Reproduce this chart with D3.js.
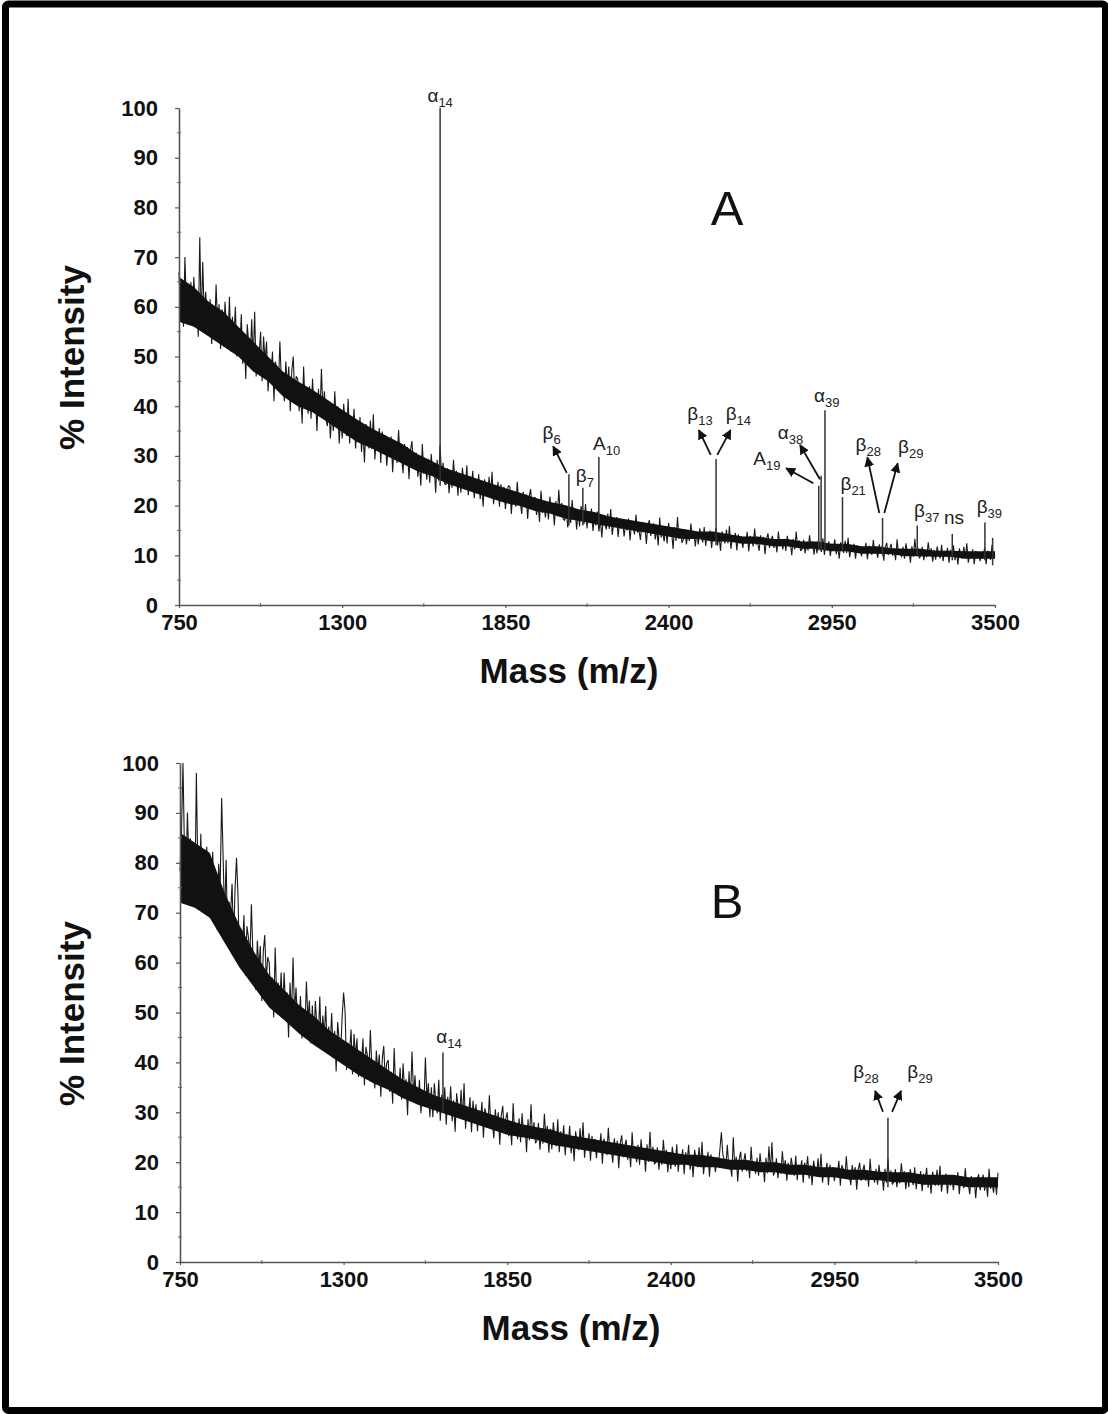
<!DOCTYPE html>
<html><head><meta charset="utf-8">
<script src="https://cdn.jsdelivr.net/npm/d3@7"></script>
<style>body{margin:0;background:#fff}svg{display:block}</style>
</head><body><svg id="c" width="1108" height="1414"></svg>
<script>
// ---------- data ----------
const mzStart = 750, mzStep = 5, coreStep = 50;
const xTicks = [750, 1300, 1850, 2400, 2950, 3500];
const xMinorTicks = [1025, 1575, 2125, 2675, 3225];
const yTicks = [0, 10, 20, 30, 40, 50, 60, 70, 80, 90, 100];
const yMinorTicks = [5, 15, 25, 35, 45, 55, 65, 75, 85, 95];

// Panel A spectrum trace, 750..3500 m/z every 5 (one row = 100 m/z)
const spectrumA = [
 67,59,64,56,70,60,63,58,65,57,66,60,62,54,74,57,69,58,63,56,
 55.5,61.5,52.5,58.5,54.5,64.5,56.5,60.5,51.5,59.5,52,61,56,53,62,51,58,54,60,50,
 55.5,51.5,58.5,48.5,54.5,45.5,56.5,52.5,49.5,57.5,49,59,46,52,50,55,45,54,49,53,
 43,48,46,51,41,49,47,44,53,45,45,41,49,44,48,39,47,50,42,46,
 45.5,39,43,36.5,48,40,42.5,38.5,44,37.5,45.5,39.5,42,35,43.5,38,47.5,39,43,37.5,
 36,40.5,33.5,38.5,35,43,36.5,40,32.5,39,33.5,40.5,36.5,34,41.5,32.5,38,35,39.5,31.5,
 35.7,32.9,37.8,30.8,35,28.7,36.4,33.6,31.5,37.1,31.4,38.4,29.3,33.5,32.1,35.6,28.6,34.9,31.4,34.2,
 28,31.9,30,33.9,26.7,32.5,31.3,28.6,35.2,29.3,29.8,26.5,32.4,29.2,31.8,25.3,31.1,33,27.9,30.4,
 30.6,25.8,28.8,24,32.4,26.4,28.2,25.2,29.4,24.6,30.4,26.2,28,22.6,29.2,25,32.2,25.6,28.6,24.4,
 24.2,27.5,22.5,25.9,23.6,29.2,24.8,27,22,26.4,22.6,27.6,24.8,23.2,28.1,22.1,25.9,23.7,27,21.5,
 24.8,22.8,26.3,21.3,24.3,19.8,25.3,23.3,21.8,25.8,21.8,26.8,20.3,23.3,22.3,24.8,19.8,24.3,21.8,23.8,
 19.3,22.3,24,23.8,18.3,22.8,21.8,19.8,24.8,20.3,20.8,18.3,22.8,20.3,22.3,17.3,21.8,23.3,19.3,21.3,
 21.7,18.1,20.3,16.7,23,18.5,19.9,17.6,20.8,17.2,21.8,18.7,20,16,20.9,17.8,23.2,18.2,20.5,17.3,
 17,19.7,15.6,18.3,16.5,21.1,17.5,19.3,15.2,18.8,15.8,19.9,17.6,16.3,20.3,15.4,18.5,16.7,19.4,14.9,
 17.6,16,18.8,14.8,17.2,13.6,18,16.4,15.2,18.4,15.3,19.3,14.1,16.5,15.7,17.7,13.7,17.3,15.3,16.9,
 13.8,16.2,15,17.4,13,16.6,15.8,14.2,18.2,14.6,15.1,13.1,16.7,14.7,16.3,12.3,15.9,17.1,13.9,15.5,
 16.4,13.2,15.2,12,17.6,13.6,14.8,12.8,15.6,12.4,16.5,13.7,14.9,11.3,15.7,12.9,17.7,13.3,15.3,12.5,
 13.2,15.3,12.2,14.3,12.9,16.4,13.6,14.9,11.8,14.6,12.2,15.4,13.6,12.6,15.7,11.9,14.3,12.9,15,11.5,
 14.5,13.1,15.5,12,14.1,10.9,14.8,13.4,12.4,15.2,12.4,15.9,11.3,13.5,12.8,14.5,11,14.2,12.4,13.8,
 11.5,13.6,12.6,14.7,10.8,13.9,13.3,11.8,15.4,12.2,12.6,10.9,14,12.2,13.7,10.2,13.3,14.4,11.5,13,
 13.9,11.5,13,10.6,14.8,11.8,12.7,11.2,13.3,10.9,13.9,11.8,12.7,10,13.3,11.2,14.8,11.5,13,10.9,
 11.3,13.1,10.4,12.2,11,14,11.6,12.8,10.1,12.5,10.4,13.1,11.6,10.7,13.4,10.1,12.2,11,12.8,9.8,
 12.3,11.1,13.2,10.2,12,9.3,12.6,11.4,10.5,12.9,10.5,13.5,9.6,11.4,10.8,12.3,9.3,12,10.5,11.7,
 9.8,11.6,10.7,12.5,9.2,11.9,11.3,10.1,13.1,10.4,11,9.5,12.2,10.7,11.9,8.9,11.6,12.5,10.1,11.3,
 12.3,9.9,11.4,9,13.2,10.2,11.1,9.6,11.7,9.3,12.4,10.3,11.2,8.5,11.8,9.7,13.3,10,11.5,9.4,
 9.9,11.7,9,10.8,9.6,12.6,10.2,11.4,8.7,11.1,9.1,11.8,10.3,9.4,12.1,8.8,10.9,9.7,11.5,8.5,
 11.1,9.9,12,9,10.8,8.1,11.4,10.2,9.3,11.7,9.4,12.4,8.5,10.3,9.7,11.2,8.2,10.9,9.4,10.6,
 8.8,10.6,9.7,11.5,8.2,10.9,10.3,9.1,12.1,9.4,10
];
// Panel A dense noise band (lower / upper edge), 750..3500 every 50
const coreLowA = [57,56,54,52,50,47,45,42,40,38.8,36.8,34.8,32.8,31.5,30,28.5,27,26,24.5,23.5,22.5,21.5,20.5,19.9,18.9,18.4,17.4,16.9,16.3,15.8,15.3,14.8,14.3,13.8,13.3,13.3,12.8,12.8,12.3,12.3,11.8,11.8,11.3,11.3,10.8,10.8,10.3,10.3,10.2,9.8,9.8,9.7,9.7,9.3,9.3,9.3];
const coreHighA = [66,64,61,59,56,53,50,47,45,43.3,41.3,39.3,37.3,35.5,34,32.5,30.5,29,27.5,26.5,25.5,24.5,23.5,22.6,21.6,20.7,20.1,19.2,18.7,17.8,17.3,16.8,16.3,15.8,15.3,14.8,14.8,14.3,13.8,13.8,13.3,13.3,12.8,12.8,12.3,12.3,11.8,11.8,11.4,11.3,11.3,10.9,10.9,10.8,10.8,10.8];

// Panel B spectrum trace, 750..3500 m/z every 5
const spectrumB = [
 78.4,86.2,100,82.3,77.1,90.1,79.7,84.9,73.2,83.6,72.8,98,78,74.1,85.8,71.5,80.6,75.4,83.2,70.2,
 78.6,73.8,82.2,70.2,77.4,66.6,79.8,75,93,81,68.6,80.6,65,72.2,69.8,75.8,63.8,74.6,81,73.4,
 59.6,66.2,62.9,69.5,57.4,67.3,65.1,60.7,71.7,61.8,60,54.5,64.4,58.9,63.3,52.3,62.2,65.5,56.7,61.1,
 60,52,57,49,63,53,56,51,58,50,58,51,54,45,56,49,61,50,55,48,
 47.6,53.3,44.8,50.5,46.6,56.2,48.6,52.4,43.8,51.4,43.7,52.3,47.5,44.6,53.2,42.8,49.4,45.6,51.3,41.8,
 47.2,43.6,49.9,40.9,46.3,38.2,48.1,44.5,41.8,49,54,50.2,38.5,43.9,42.1,46.6,37.6,45.7,41.2,44.8,
 37.1,42.2,39.7,44.8,35.4,43.1,41.4,38,46.5,38.8,39,34.8,42.4,38.2,41.6,33.1,40.7,43.3,36.5,39.9,
 40.5,34.1,38.1,31.7,42.9,34.9,37.3,33.3,38.9,32.5,39.8,34.2,36.6,29.4,38.2,32.6,42.2,33.4,37.4,31.8,
 32,36.5,29.8,34.3,31.3,41,32.8,35.8,29,35,29,35.8,32,29.8,36.5,28.3,33.5,30.5,35,27.5,
 33.1,30.3,35.2,28.2,32.4,26.1,33.8,31,28.9,34.5,28.8,35.8,26.7,30.9,29.5,33,26,32.3,28.8,31.6,
 26.2,30.1,28.2,32.1,24.9,30.8,29.5,26.9,33.4,27.5,28,24.8,30.6,27.4,30,23.5,29.3,31.3,26.1,28.7,
 30,25.2,28.2,23.4,31.8,25.8,27.6,24.6,28.8,24,29.8,25.6,27.4,22,28.6,24.4,31.6,25,28,23.8,
 24.3,27.9,22.5,26.1,23.7,29.7,24.9,27.3,21.9,26.7,22.6,28,25,23.2,28.6,22,26.2,23.8,27.4,21.4,
 25.7,23.5,27.3,21.8,25.1,20.2,26.2,24,22.4,26.8,22.5,28,20.9,24.2,23.1,25.8,20.3,25.3,22.5,24.7,
 20.8,24.1,22.5,25.8,19.7,24.7,23.6,21.4,26.9,21.9,22.6,19.9,24.8,22.1,24.3,18.8,23.7,25.4,21,23.2,
 24.5,20.5,23,19,26,21,22.5,20,23.5,19.5,24.6,21.1,22.6,18.1,23.6,20.1,26.1,20.6,23.1,19.6,
 20,23,18.5,21.5,19.5,24.5,20.5,22.5,18,22,18.6,23.1,20.6,19.1,23.6,18.1,21.6,19.6,22.6,17.6,
 22,20,23.5,18.5,21.5,17,22.5,20.5,19,23,19.1,24.1,17.6,20.6,19.6,22.1,17.1,21.6,19.1,21.1,
 18,21,19.5,22.5,26,21.5,20.5,19,23.5,19,19.6,17.1,25,19.1,21.1,16.1,20.6,22.1,18.1,20.1,
 21.8,18.2,20.4,16.8,23.1,18.6,20,17.7,20.9,17.3,21.8,18.7,20,16,20.9,17.8,23.2,18.2,24,17.3,
 18.1,20.8,16.8,19.5,17.7,22.2,18.6,20.4,16.3,19.9,17.7,20.9,18.6,17.3,21.3,16.4,19.5,17.7,20.4,15.9,
 19.9,18.1,21.2,16.7,19.4,15.4,20.3,18.5,17.2,20.8,17.2,21.7,15.9,18.6,17.6,19.9,15.4,19.5,17.2,19,
 16.2,18.9,17.6,20.3,15.3,19.4,18.5,16.7,21.2,17.1,17.6,15.4,19.4,17.2,19,14.5,18.5,19.9,16.3,18.1,
 19.5,16.3,18.3,15.1,20.7,16.7,17.9,15.9,18.7,15.5,19.5,16.7,17.9,14.3,18.7,15.9,20.7,16.3,18.3,15.5,
 16.2,18.6,15,17.4,15.8,19.8,16.6,18.2,14.6,17.8,15,18.6,16.6,15.4,19,14.6,17.4,15.8,18.2,14.2,
 17.7,16.1,18.9,14.9,17.3,13.7,18.1,16.5,15.3,18.5,15.3,19.3,14.1,16.5,15.7,17.7,13.7,17.3,15.3,16.9,
 14.4,16.8,15.6,18,13.6,17.2,16.4,14.8,18.8,15.2,15.6,13.6,17.2,15.2,16.8,12.8,16.4,17.6,14.4,16,
 17.5,14.3,16.3,13.1,18.7,14.7,15.9,13.9,16.7,13.5,17.9
];
const coreLowB = [72,71,69,64,59,55,51,48.5,45.8,43.5,41.5,39.5,37.5,35.8,34.5,32.8,31.5,30.5,29.5,28.5,27.5,26.5,25.5,25,24.5,23.5,23,22.5,22,21.5,21,20.5,20,19.5,19.5,19,19,18.5,18.5,18,18,17.5,17.5,17,17,16.5,16.5,16.4,16,16,15.5,15.5,15.5,15,15,15];
const coreHighB = [86,84,82,74,67.5,62,57.5,54.5,51.5,49.3,46.5,44.5,42.5,40.5,38.5,36.5,35,33.5,32.5,31.5,30.5,29.5,28.5,27.6,27,26.5,25.5,25,24.5,24,23.5,23,22.5,22,21.5,21.5,21,20.5,20.5,20,20,19.5,19.5,19,19,18.5,18.5,18.1,18,18,17.5,17.5,17.5,17,17,17];

// peaks: m/z, top intensity, base intensity
const peaksA = [
 {mz:1630, top:100, base:24},
 {mz:2064, top:26.3, base:16},
 {mz:2111, top:23.6, base:16},
 {mz:2165, top:29.8, base:16},
 {mz:2560, top:29.4, base:12},
 {mz:2906, top:24, base:11},
 {mz:2914, top:26, base:11},
 {mz:2927, top:39.2, base:11},
 {mz:2986, top:21.7, base:11},
 {mz:3121, top:17.5, base:10},
 {mz:3238, top:16, base:10},
 {mz:3356, top:14.3, base:9},
 {mz:3466, top:16.6, base:9},
 {mz:3492, top:13.5, base:8}
];
const peaksB = [
 {mz:1634, top:42, base:30},
 {mz:3130, top:28.9, base:15}
];

// annotation labels: main text, subscript, centre m/z, centre intensity
const labelsA = [
 {t:"α", s:"14", mz:1630, v:102.2},
 {t:"β", s:"6",  mz:2006, v:34.5},
 {t:"β", s:"7",  mz:2118, v:25.8},
 {t:"A", s:"10", mz:2191, v:32.2},
 {t:"β", s:"13", mz:2506, v:38.2},
 {t:"β", s:"14", mz:2635, v:38.2},
 {t:"α", s:"39", mz:2933, v:41.9},
 {t:"α", s:"38", mz:2811, v:34.5},
 {t:"A", s:"19", mz:2731, v:29.2},
 {t:"β", s:"21", mz:3022, v:24.1},
 {t:"β", s:"28", mz:3073, v:31.9},
 {t:"β", s:"29", mz:3216, v:31.5},
 {t:"β", s:"37", mz:3270, v:18.8},
 {t:"ns", s:"",  mz:3362, v:17.4},
 {t:"β", s:"39", mz:3481, v:19.5}
];
const labelsB = [
 {t:"α", s:"14", mz:1654, v:44.9},
 {t:"β", s:"28", mz:3056, v:37.9},
 {t:"β", s:"29", mz:3238, v:37.9}
];

// arrows: from (mz1,v1) to (mz2,v2)
const arrowsA = [
 {mz1:2057, v1:26.6, mz2:2011, v2:31.9},
 {mz1:2542, v1:30.2, mz2:2502, v2:35.2},
 {mz1:2564, v1:30.2, mz2:2609, v2:35.2},
 {mz1:2888, v1:24.5, mz2:2796, v2:27.5},
 {mz1:2910, v1:25.3, mz2:2843, v2:32.2},
 {mz1:3110, v1:18.5, mz2:3070, v2:29.7},
 {mz1:3127, v1:18.5, mz2:3172, v2:28.5}
];
const arrowsB = [
 {mz1:3113, v1:30.1, mz2:3087, v2:34.3},
 {mz1:3144, v1:30.1, mz2:3174, v2:34.3}
];

const panelLetters = ["A", "B"];
const xTitle = "Mass (m/z)";
const yTitle = "% Intensity";

// ---------- drawing ----------
const svg = d3.select("#c");
const FONT = "'Liberation Sans', Arial, Helvetica, sans-serif";

svg.append("rect").attr("x", 5.5).attr("y", 4).attr("width", 1100).attr("height", 1406.5)
  .attr("rx", 3).attr("fill", "none").attr("stroke", "#000").attr("stroke-width", 7);

svg.append("defs").append("marker").attr("id", "ah")
  .attr("viewBox", "0 0 10 10").attr("refX", 9).attr("refY", 5)
  .attr("markerWidth", 10).attr("markerHeight", 10).attr("markerUnits", "userSpaceOnUse")
  .attr("orient", "auto")
  .append("path").attr("d", "M0,0L10,5L0,10z").attr("fill", "#111");

function panel(cfg) {
  const x = d3.scaleLinear().domain([750, 3500]).range(cfg.xr);
  const y = d3.scaleLinear().domain([0, 100]).range(cfg.yr);
  const g = svg.append("g");

  // spectrum trace
  const pts = cfg.spec.map((v, i) => [mzStart + i * mzStep, v]);
  g.append("path").datum(pts)
    .attr("d", d3.line().x(d => x(d[0])).y(d => y(d[1])))
    .attr("fill", "none").attr("stroke", "#1a1a1a").attr("stroke-width", 1.1)
    .attr("stroke-linejoin", "bevel");

  // dense noise band
  const core = cfg.low.map((v, i) => ({mz: mzStart + i * coreStep, lo: v, hi: cfg.high[i]}));
  g.append("path").datum(core)
    .attr("d", d3.area().x(d => x(d.mz)).y0(d => y(d.lo)).y1(d => y(d.hi)))
    .attr("fill", "#111");

  g.selectAll(null).data(cfg.peaks).join("line")
    .attr("x1", d => x(d.mz)).attr("x2", d => x(d.mz))
    .attr("y1", d => y(d.base)).attr("y2", d => y(d.top))
    .attr("stroke", "#333").attr("stroke-width", 1.5);

  // axes
  const xa = g.append("g").attr("transform", `translate(0,${cfg.yr[0]})`)
    .call(d3.axisBottom(x).tickValues(xTicks).tickSize(3).tickSizeOuter(0).tickPadding(6).tickFormat(d3.format("d")));
  const ya = g.append("g").attr("transform", `translate(${cfg.xr[0]},0)`)
    .call(d3.axisLeft(y).tickValues(yTicks).tickSize(4).tickSizeOuter(0).tickPadding(17).tickFormat(d3.format("d")));
  [xa, ya].forEach(a => {
    a.select(".domain").attr("stroke", "#555").attr("stroke-width", 1.6);
    a.selectAll(".tick line").attr("stroke", "#555").attr("stroke-width", 1.2);
    a.selectAll("text").attr("font-family", FONT).attr("font-weight", "bold")
      .attr("font-size", 22).attr("fill", "#111");
  });
  g.selectAll(null).data(xMinorTicks).join("line")
    .attr("x1", d => x(d)).attr("x2", d => x(d))
    .attr("y1", cfg.yr[0] - 2).attr("y2", cfg.yr[0] + 2)
    .attr("stroke", "#666").attr("stroke-width", 1);
  g.selectAll(null).data(yMinorTicks).join("line")
    .attr("x1", cfg.xr[0] - 2).attr("x2", cfg.xr[0] + 2)
    .attr("y1", d => y(d)).attr("y2", d => y(d))
    .attr("stroke", "#666").attr("stroke-width", 1);

  // titles
  g.append("text").attr("x", (cfg.xr[0] + cfg.xr[1]) / 2 - 18).attr("y", cfg.yr[0] + 78)
    .attr("text-anchor", "middle").attr("font-family", FONT).attr("font-weight", "bold")
    .attr("font-size", 35).attr("fill", "#111").text(xTitle);
  g.append("text")
    .attr("transform", `translate(84,${(cfg.yr[0] + cfg.yr[1]) / 2 + 1}) rotate(-90)`)
    .attr("text-anchor", "middle").attr("font-family", FONT).attr("font-weight", "bold")
    .attr("font-size", 35).attr("fill", "#111").text(yTitle);

  // panel letter
  g.append("text").attr("x", x(cfg.letterMz)).attr("y", y(cfg.letterV))
    .attr("text-anchor", "middle").attr("font-family", FONT)
    .attr("font-size", 49).attr("fill", "#111").text(cfg.letter);

  // arrows
  g.selectAll(null).data(cfg.arrows).join("line")
    .attr("x1", d => x(d.mz1)).attr("y1", d => y(d.v1))
    .attr("x2", d => x(d.mz2)).attr("y2", d => y(d.v2))
    .attr("stroke", "#111").attr("stroke-width", 1.8).attr("marker-end", "url(#ah)");

  // labels
  const lt = g.selectAll(null).data(cfg.labels).join("text")
    .attr("x", d => x(d.mz)).attr("y", d => y(d.v) + 5)
    .attr("text-anchor", "middle").attr("font-family", FONT)
    .attr("font-size", 19).attr("fill", "#222");
  lt.append("tspan").text(d => d.t);
  lt.append("tspan").attr("dy", 5).attr("font-size", 13).text(d => d.s);
}

panel({xr: [179, 995], yr: [605, 108], spec: spectrumA, low: coreLowA, high: coreHighA,
  peaks: peaksA, labels: labelsA, arrows: arrowsA,
  letter: panelLetters[0], letterMz: 2597, letterV: 76.5});
panel({xr: [180, 998], yr: [1262, 763], spec: spectrumB, low: coreLowB, high: coreHighB,
  peaks: peaksB, labels: labelsB, arrows: arrowsB,
  letter: panelLetters[1], letterMz: 2589, letterV: 68.9});
</script>
</body></html>
